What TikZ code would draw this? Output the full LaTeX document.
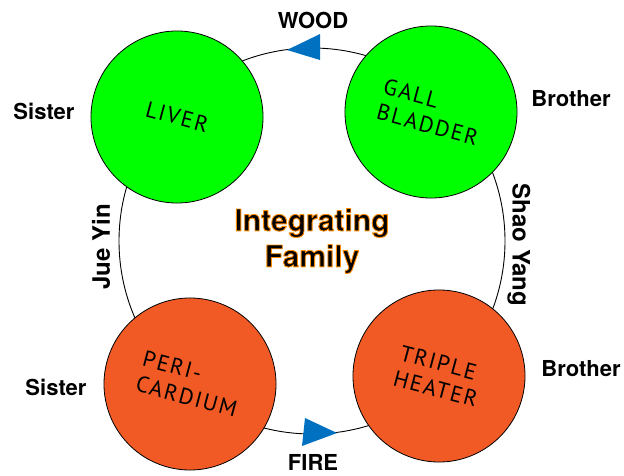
\documentclass[tikz,border=0pt]{standalone}
\usepackage{fontspec}
\setmainfont{TeX Gyre Heros}
\newfontfamily\organfont[LetterSpace=8]{PT Sans}
\definecolor{wood}{HTML}{00FF00}
\definecolor{fire}{HTML}{F15A24}
\definecolor{flow}{HTML}{0070C0}
% black letters with an orange rim
\newcommand{\rimtext}[1]{\special{pdf:literal direct 1 0.55 0 RG 0.9 w 1 j 2 Tr}#1\special{pdf:literal direct 0 Tr}}
\tikzset{
  organ/.style={circle, draw, line width=0.8pt, minimum size=172pt, inner sep=0pt,
    align=left, font=\organfont\fontsize{22.5}{26}\selectfont, rotate=-15},
  kin/.style={font=\bfseries\fontsize{22}{26}\selectfont},
  meridian/.style={font=\bfseries\fontsize{24}{28}\selectfont},
}
\begin{document}
\begin{tikzpicture}[x=1pt,y=-1pt]
\useasboundingbox (0,0) rectangle (624,476);
% the ring
\coordinate (hub) at (312,241);
\draw[line width=0.9pt] (hub) circle[radius=193];
% flow marks on the ring
\fill[flow] (320,34) -- (287,50) -- (320,60) -- cycle;
\fill[flow] (305,418) -- (337,433) -- (302,446) -- cycle;
% organs
\node[organ, fill=wood] (liver) at (177,117) {LIVER};
\node[organ, fill=wood] (gall) at (431,112) {GALL\\BLADDER};
\node[organ, fill=fire] (peri) at (190,384) {PERI-\\CARDIUM};
\node[organ, fill=fire] (triple) at (439,376) {TRIPLE\\HEATER};
% labels
\node[kin] (wood) at (313,20) {WOOD};
\node[kin] (fire) at (313,462) {FIRE};
\node[kin] (sis1) at (44,111) {Sister};
\node[kin] (bro1) at (571,99) {Brother};
\node[kin] (sis2) at (56,387) {Sister};
\node[kin] (bro2) at (581,369) {Brother};
\node[meridian, rotate=90] (jue) at (101,247) {Jue Yin};
\node[meridian, rotate=-90] (shao) at (519,245) {Shao Yang};
\node[font=\bfseries\fontsize{30}{36}\selectfont, align=center] (family) at (hub)
  {\rimtext{Integrating}\\\rimtext{Family}};
\end{tikzpicture}
\end{document}
